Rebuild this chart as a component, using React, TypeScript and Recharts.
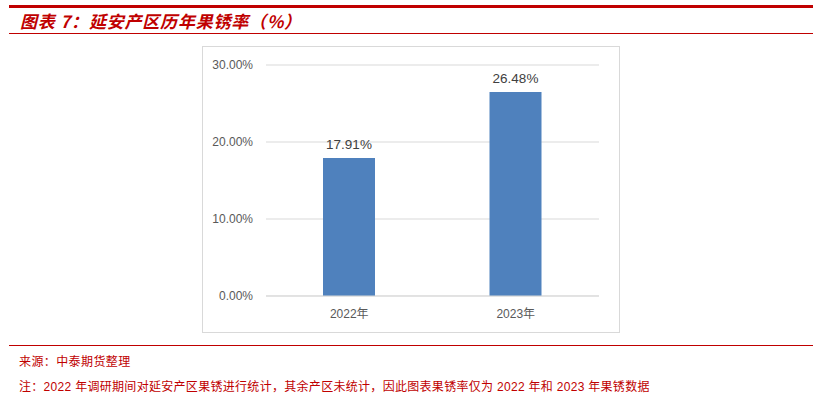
import { BarChart, Bar, XAxis, YAxis, CartesianGrid, LabelList } from "recharts";

const years = ["2022年", "2023年"];
const rustRate = [17.91, 26.48];
const yTicks = [0, 10, 20, 30];

const data = years.map((year, i) => ({ year, rate: rustRate[i] }));

const RED = "#C00000";
const CJK = '"Liberation Sans", Arial, "Noto Sans CJK SC", sans-serif';

function pct(v: number) {
  return v.toFixed(2) + "%";
}

export default function App() {
  return (
    <div
      style={{
        position: "absolute",
        left: 0,
        top: 0,
        width: 820,
        height: 398,
        background: "#fff",
        fontFamily: '"Noto Sans CJK SC", sans-serif',
      }}
    >
      <div style={{ position: "absolute", left: 9, top: 5, width: 804, height: 3, background: RED }} />
      <div
        style={{
          position: "absolute",
          left: 20,
          top: 9,
          fontSize: 17,
          fontWeight: 700,
          fontStyle: "italic",
          color: RED,
          lineHeight: "24px",
          letterSpacing: 0.8,
          whiteSpace: "nowrap",
        }}
      >
        图表 7：延安产区历年果锈率（%）
      </div>
      <div style={{ position: "absolute", left: 9, top: 33, width: 804, height: 1, background: RED }} />

      <div
        style={{
          position: "absolute",
          left: 202,
          top: 46,
          width: 418,
          height: 287,
          border: "1px solid #D9D9D9",
          boxSizing: "border-box",
        }}
      >
        <BarChart
          width={416}
          height={285}
          data={data}
          margin={{ top: 18, right: 20, left: 0, bottom: 0 }}
        >
          <CartesianGrid vertical={false} stroke="#D9D9D9" />
          <XAxis
            dataKey="year"
            height={36}
            axisLine={{ stroke: "#D9D9D9" }}
            tickLine={false}
            tickSize={6}
            tickMargin={7}
            tick={{ fontSize: 12, fill: "#595959", fontFamily: CJK }}
          />
          <YAxis
            width={63}
            domain={[0, 30]}
            ticks={yTicks}
            tickFormatter={pct}
            axisLine={false}
            tickLine={false}
            tickSize={6}
            tickMargin={7}
            tick={{ fontSize: 12, fill: "#595959", fontFamily: CJK }}
          />
          <Bar dataKey="rate" fill="#4F81BD" barSize={52} isAnimationActive={false}>
            <LabelList
              dataKey="rate"
              position="top"
              offset={9}
              formatter={(v: any) => pct(Number(v))}
              style={{ fontSize: 13.5, fill: "#404040", fontFamily: CJK }}
            />
          </Bar>
        </BarChart>
      </div>

      <div style={{ position: "absolute", left: 9, top: 345, width: 804, height: 1, background: RED }} />
      <div
        style={{
          position: "absolute",
          left: 19,
          top: 352,
          fontSize: 12,
          lineHeight: "18px",
          color: RED,
          letterSpacing: 0.4,
          whiteSpace: "nowrap",
        }}
      >
        来源：中泰期货整理
      </div>
      <div
        style={{
          position: "absolute",
          left: 19,
          top: 378,
          fontSize: 12,
          lineHeight: "18px",
          color: RED,
          letterSpacing: 0.3,
          whiteSpace: "nowrap",
          fontFamily: CJK,
        }}
      >
        注：2022 年调研期间对延安产区果锈进行统计，其余产区未统计，因此图表果锈率仅为 2022 年和 2023 年果锈数据
      </div>
    </div>
  );
}
